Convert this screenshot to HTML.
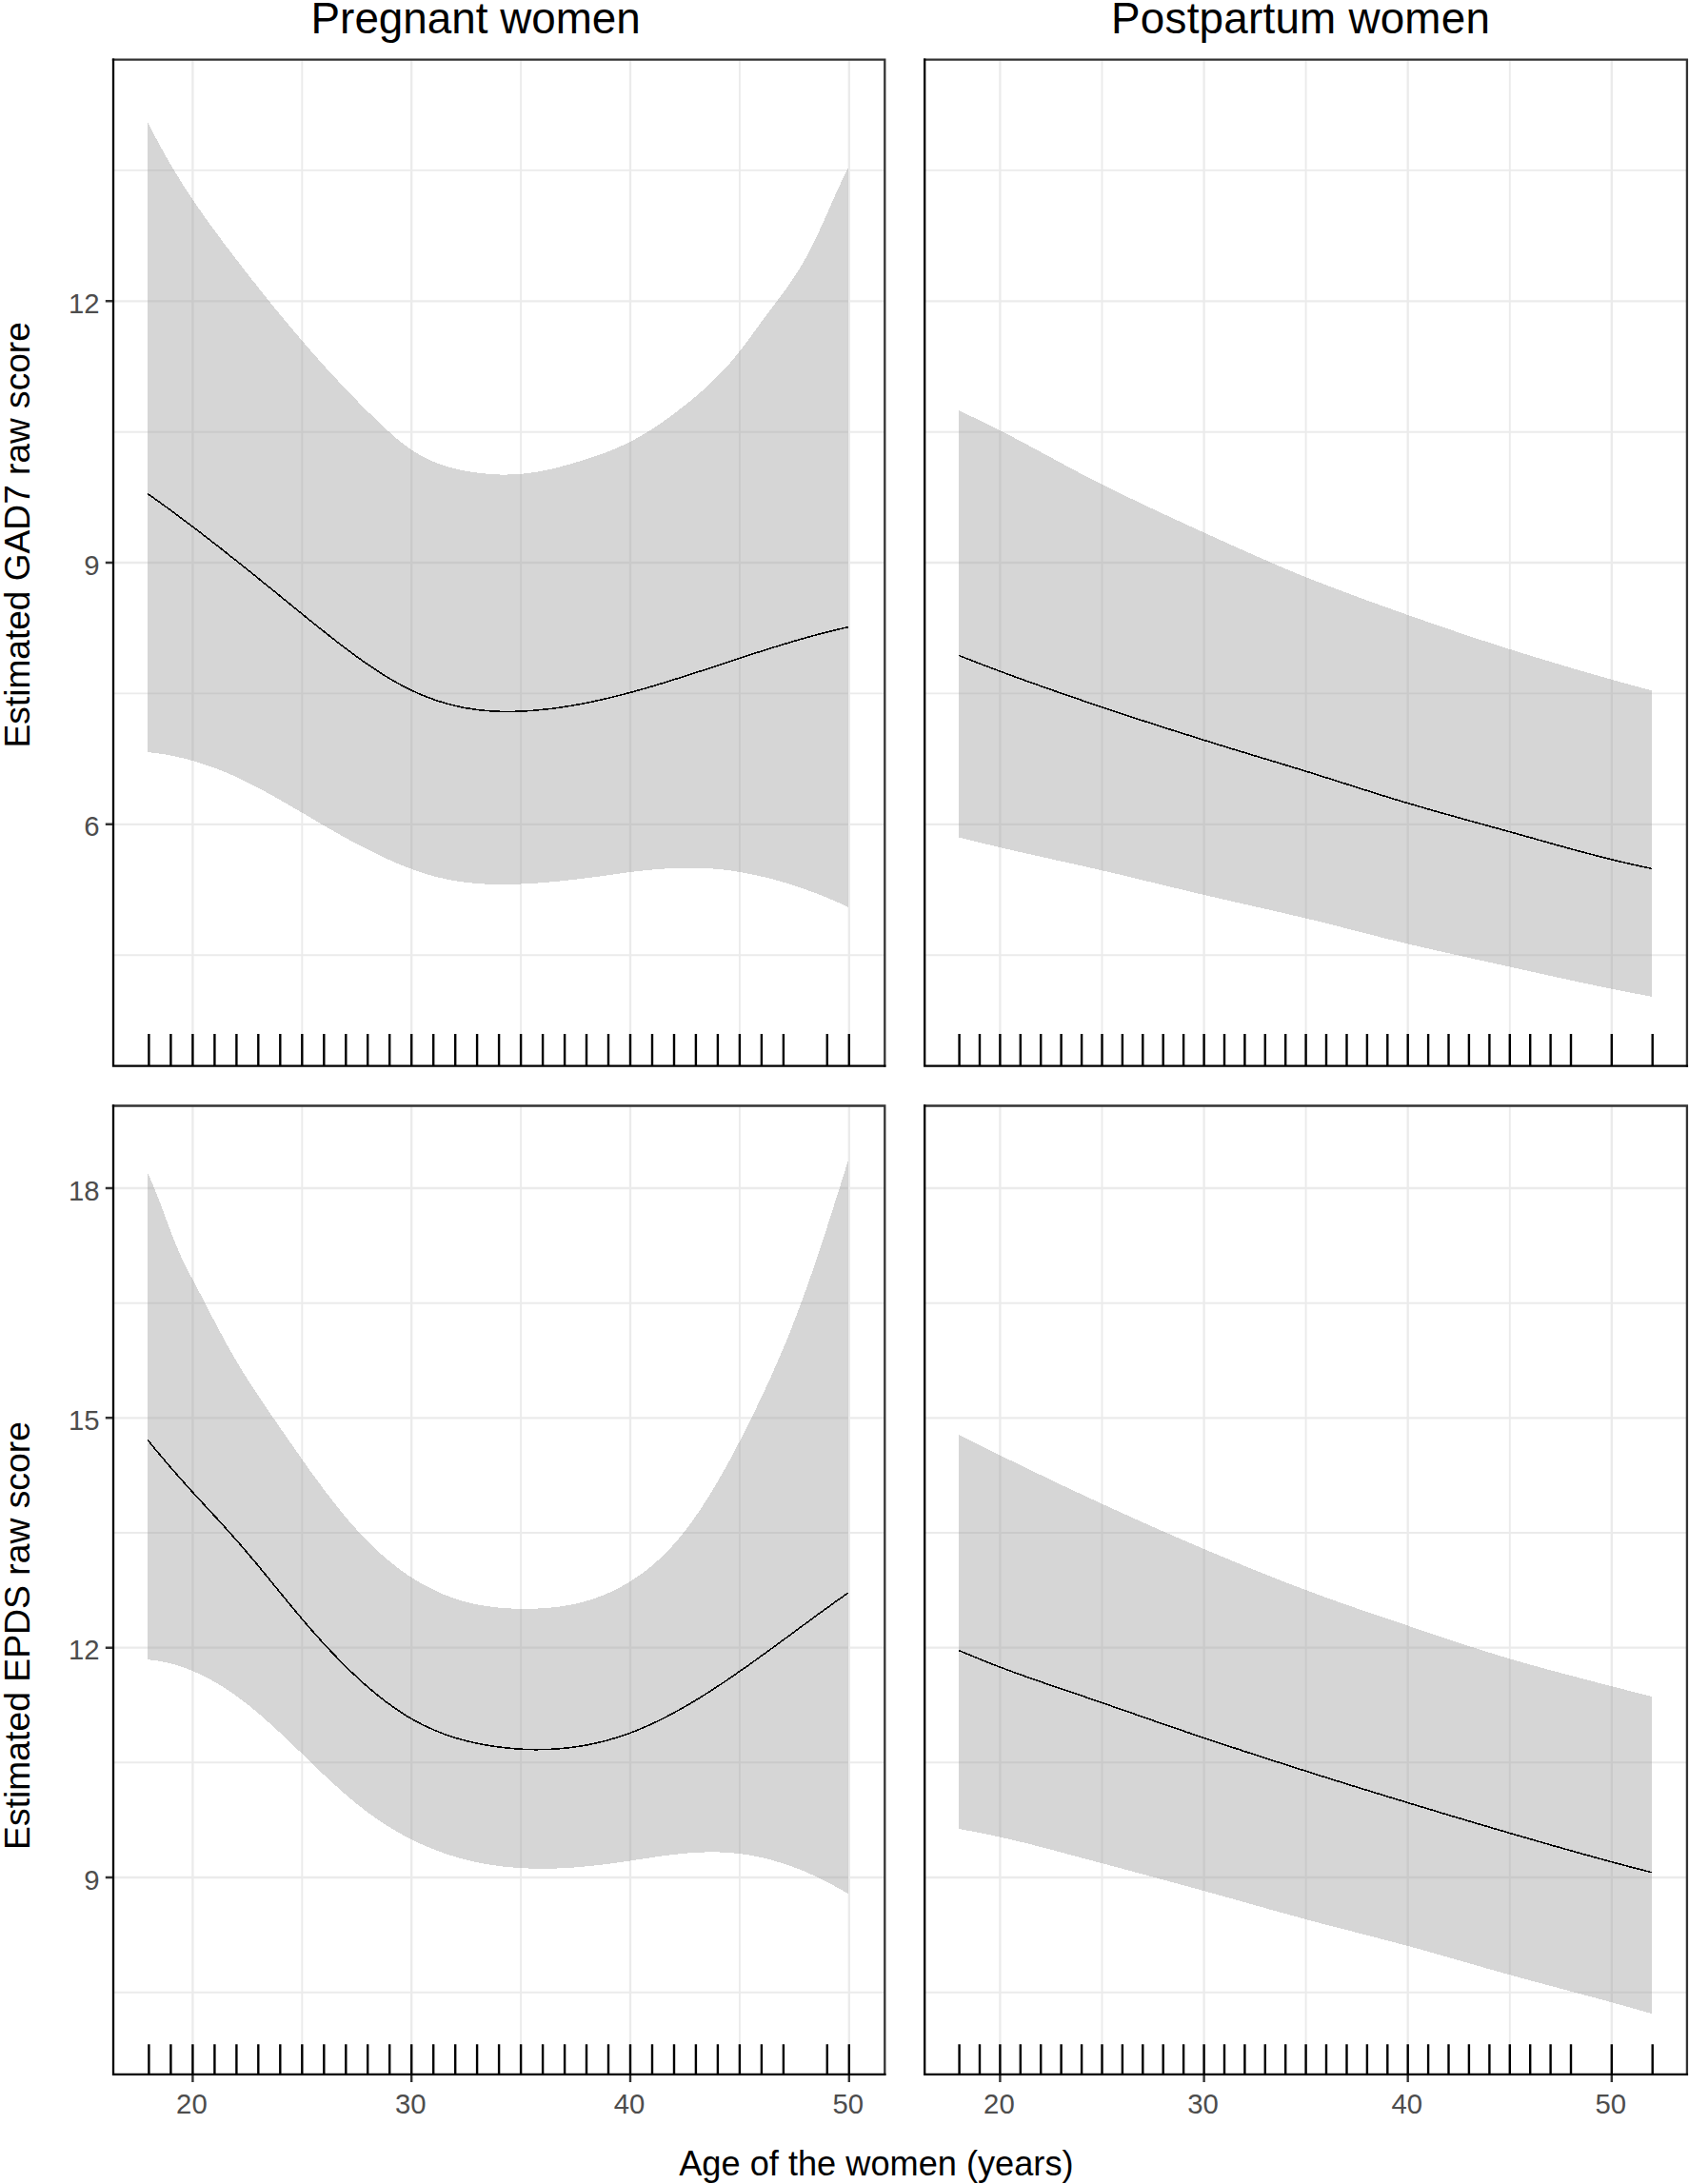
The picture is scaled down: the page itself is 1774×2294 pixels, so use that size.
<!DOCTYPE html>
<html lang="en"><head><meta charset="utf-8"><title>Estimated GAD7 and EPDS raw scores by age of the women</title>
<style>html,body{margin:0;padding:0;background:#fff}svg{display:block}text{font-family:"Liberation Sans",sans-serif}.tk{font-size:29.3px;fill:#4d4d4d}.ax{font-size:36.7px;fill:#000}.ti{font-size:45.8px;fill:#000}.gM{stroke:#ebebeb;stroke-width:2.3;fill:none}.gm{stroke:#ebebeb;stroke-width:1.9;fill:none}.rb{fill:#999;fill-opacity:.4;stroke:none;shape-rendering:crispEdges}.ln{fill:none;stroke:#000;stroke-width:1.6;stroke-linejoin:round;shape-rendering:crispEdges}.rug{stroke:#000;stroke-width:2.4;fill:none}.bd{fill:none;stroke:#333;stroke-width:2.3;stroke-linecap:square}.axl{stroke:#000;stroke-width:2.3;fill:none;stroke-linecap:square}.tick{stroke:#333;stroke-width:2.4;fill:none}</style></head><body>
<svg width="1774" height="2294" viewBox="0 0 1774 2294">
<rect width="1774" height="2294" fill="#fff"/>
<g id="p1">
<path class="gm" d="M119.0 1003.2H929.3M119.0 728.4H929.3M119.0 453.7H929.3M119.0 178.9H929.3M317.3 62.6V1119.6M547.1 62.6V1119.6M776.9 62.6V1119.6"/>
<path class="gM" d="M119.0 865.8H929.3M119.0 591.0H929.3M119.0 316.3H929.3M202.4 62.6V1119.6M432.2 62.6V1119.6M662.0 62.6V1119.6M891.8 62.6V1119.6"/>
<polygon class="rb" points="155.2,128.4 159.2,136.3 163.2,144.1 167.3,151.6 171.3,158.9 175.3,166.0 179.3,173.0 183.3,179.7 187.4,186.3 191.4,192.8 195.4,199.1 199.4,205.2 203.4,211.2 207.5,217.2 211.5,222.9 215.5,228.6 219.5,234.3 223.5,239.8 227.6,245.2 231.6,250.6 235.6,256.0 239.6,261.3 243.6,266.5 247.7,271.8 251.7,277.0 255.7,282.2 259.7,287.4 263.7,292.5 267.8,297.6 271.8,302.7 275.8,307.7 279.8,312.7 283.8,317.7 287.8,322.7 291.9,327.6 295.9,332.5 299.9,337.3 303.9,342.1 307.9,346.9 312.0,351.6 316.0,356.4 320.0,361.0 324.0,365.7 328.0,370.3 332.1,374.8 336.1,379.3 340.1,383.8 344.1,388.3 348.1,392.7 352.2,397.0 356.2,401.3 360.2,405.6 364.2,409.8 368.2,414.0 372.3,418.2 376.3,422.3 380.3,426.4 384.3,430.4 388.3,434.3 392.4,438.3 396.4,442.2 400.4,446.0 404.4,449.8 408.4,453.4 412.5,457.0 416.5,460.5 420.5,463.8 424.5,467.0 428.5,469.9 432.6,472.7 436.6,475.3 440.6,477.7 444.6,479.9 448.6,481.9 452.7,483.8 456.7,485.5 460.7,487.0 464.7,488.5 468.7,489.8 472.8,490.9 476.8,492.0 480.8,492.9 484.8,493.8 488.8,494.6 492.9,495.3 496.9,495.9 500.9,496.5 504.9,497.0 508.9,497.4 513.0,497.8 517.0,498.1 521.0,498.3 525.0,498.5 529.0,498.5 533.0,498.5 537.1,498.4 541.1,498.2 545.1,498.0 549.1,497.6 553.1,497.2 557.2,496.7 561.2,496.1 565.2,495.4 569.2,494.7 573.2,493.9 577.3,493.0 581.3,492.1 585.3,491.1 589.3,490.1 593.3,489.0 597.4,487.9 601.4,486.7 605.4,485.5 609.4,484.3 613.4,483.1 617.5,481.8 621.5,480.5 625.5,479.1 629.5,477.7 633.5,476.3 637.6,474.8 641.6,473.2 645.6,471.5 649.6,469.8 653.6,468.0 657.7,466.1 661.7,464.1 665.7,462.0 669.7,459.8 673.7,457.5 677.8,455.1 681.8,452.6 685.8,450.1 689.8,447.4 693.8,444.7 697.9,441.9 701.9,439.0 705.9,436.0 709.9,433.0 713.9,429.9 718.0,426.8 722.0,423.6 726.0,420.3 730.0,417.0 734.0,413.6 738.1,410.1 742.1,406.5 746.1,402.7 750.1,398.9 754.1,394.9 758.2,390.7 762.2,386.4 766.2,381.9 770.2,377.3 774.2,372.4 778.2,367.4 782.3,362.1 786.3,356.7 790.3,351.2 794.3,345.6 798.3,340.0 802.4,334.5 806.4,329.1 810.4,323.8 814.4,318.5 818.4,313.2 822.5,307.8 826.5,302.2 830.5,296.5 834.5,290.5 838.5,284.2 842.6,277.6 846.6,270.5 850.6,263.0 854.6,255.0 858.6,246.6 862.7,237.9 866.7,229.0 870.7,219.9 874.7,210.8 878.7,201.7 882.8,192.9 886.8,184.5 890.8,176.6 890.8,952.7 886.8,950.8 882.8,949.0 878.7,947.2 874.7,945.5 870.7,943.8 866.7,942.1 862.7,940.5 858.6,938.9 854.6,937.4 850.6,935.9 846.6,934.5 842.6,933.0 838.5,931.7 834.5,930.3 830.5,929.1 826.5,927.8 822.5,926.6 818.4,925.4 814.4,924.3 810.4,923.2 806.4,922.2 802.4,921.2 798.3,920.3 794.3,919.3 790.3,918.5 786.3,917.7 782.3,916.9 778.2,916.2 774.2,915.5 770.2,914.9 766.2,914.3 762.2,913.8 758.2,913.3 754.1,912.9 750.1,912.6 746.1,912.3 742.1,912.0 738.1,911.8 734.0,911.7 730.0,911.6 726.0,911.6 722.0,911.6 718.0,911.6 713.9,911.7 709.9,911.8 705.9,912.0 701.9,912.2 697.9,912.5 693.8,912.7 689.8,913.1 685.8,913.4 681.8,913.8 677.8,914.2 673.7,914.6 669.7,915.1 665.7,915.6 661.7,916.1 657.7,916.6 653.6,917.2 649.6,917.7 645.6,918.3 641.6,918.8 637.6,919.4 633.5,919.9 629.5,920.5 625.5,921.0 621.5,921.6 617.5,922.1 613.4,922.6 609.4,923.1 605.4,923.6 601.4,924.1 597.4,924.5 593.3,924.9 589.3,925.4 585.3,925.8 581.3,926.2 577.3,926.5 573.2,926.9 569.2,927.2 565.2,927.5 561.2,927.7 557.2,928.0 553.1,928.2 549.1,928.4 545.1,928.6 541.1,928.7 537.1,928.8 533.0,928.9 529.0,928.9 525.0,928.9 521.0,928.9 517.0,928.8 513.0,928.6 508.9,928.5 504.9,928.2 500.9,927.9 496.9,927.6 492.9,927.2 488.8,926.7 484.8,926.2 480.8,925.6 476.8,925.0 472.8,924.2 468.7,923.4 464.7,922.5 460.7,921.6 456.7,920.6 452.7,919.5 448.6,918.3 444.6,917.0 440.6,915.7 436.6,914.3 432.6,912.9 428.5,911.4 424.5,909.8 420.5,908.2 416.5,906.5 412.5,904.8 408.4,903.0 404.4,901.2 400.4,899.3 396.4,897.4 392.4,895.4 388.3,893.4 384.3,891.4 380.3,889.3 376.3,887.2 372.3,885.1 368.2,882.9 364.2,880.7 360.2,878.5 356.2,876.2 352.2,873.9 348.1,871.6 344.1,869.3 340.1,867.0 336.1,864.7 332.1,862.3 328.0,860.0 324.0,857.6 320.0,855.2 316.0,852.9 312.0,850.5 307.9,848.2 303.9,845.8 299.9,843.5 295.9,841.2 291.9,838.9 287.8,836.6 283.8,834.4 279.8,832.2 275.8,830.0 271.8,827.8 267.8,825.7 263.7,823.7 259.7,821.7 255.7,819.7 251.7,817.8 247.7,815.9 243.6,814.1 239.6,812.4 235.6,810.7 231.6,809.1 227.6,807.5 223.5,806.0 219.5,804.6 215.5,803.2 211.5,801.9 207.5,800.6 203.4,799.4 199.4,798.3 195.4,797.2 191.4,796.2 187.4,795.3 183.3,794.4 179.3,793.6 175.3,792.8 171.3,792.1 167.3,791.5 163.2,790.9 159.2,790.5 155.2,790.0"/>
<polyline class="ln" points="155.2,518.7 159.2,521.5 163.2,524.4 167.3,527.3 171.3,530.2 175.3,533.1 179.3,536.0 183.3,539.0 187.4,542.0 191.4,545.0 195.4,548.0 199.4,551.0 203.4,554.1 207.5,557.1 211.5,560.2 215.5,563.3 219.5,566.4 223.5,569.6 227.6,572.7 231.6,575.8 235.6,579.0 239.6,582.2 243.6,585.4 247.7,588.6 251.7,591.8 255.7,595.0 259.7,598.2 263.7,601.4 267.8,604.7 271.8,607.9 275.8,611.2 279.8,614.4 283.8,617.7 287.8,620.9 291.9,624.2 295.9,627.5 299.9,630.7 303.9,634.0 307.9,637.3 312.0,640.5 316.0,643.8 320.0,647.1 324.0,650.3 328.0,653.6 332.1,656.8 336.1,660.0 340.1,663.2 344.1,666.4 348.1,669.6 352.2,672.8 356.2,675.9 360.2,678.9 364.2,682.0 368.2,685.0 372.3,688.0 376.3,690.9 380.3,693.7 384.3,696.6 388.3,699.3 392.4,702.0 396.4,704.7 400.4,707.3 404.4,709.8 408.4,712.2 412.5,714.6 416.5,716.9 420.5,719.1 424.5,721.2 428.5,723.3 432.6,725.2 436.6,727.1 440.6,728.9 444.6,730.6 448.6,732.2 452.7,733.7 456.7,735.1 460.7,736.5 464.7,737.7 468.7,738.9 472.8,740.0 476.8,741.0 480.8,741.9 484.8,742.8 488.8,743.6 492.9,744.2 496.9,744.9 500.9,745.4 504.9,745.9 508.9,746.3 513.0,746.6 517.0,746.9 521.0,747.1 525.0,747.3 529.0,747.3 533.0,747.4 537.1,747.4 541.1,747.3 545.1,747.2 549.1,747.0 553.1,746.8 557.2,746.5 561.2,746.2 565.2,745.8 569.2,745.4 573.2,745.0 577.3,744.6 581.3,744.1 585.3,743.5 589.3,742.9 593.3,742.3 597.4,741.7 601.4,741.0 605.4,740.3 609.4,739.6 613.4,738.8 617.5,738.0 621.5,737.2 625.5,736.3 629.5,735.4 633.5,734.5 637.6,733.6 641.6,732.6 645.6,731.6 649.6,730.6 653.6,729.6 657.7,728.5 661.7,727.4 665.7,726.4 669.7,725.2 673.7,724.1 677.8,723.0 681.8,721.8 685.8,720.6 689.8,719.4 693.8,718.2 697.9,717.0 701.9,715.7 705.9,714.5 709.9,713.2 713.9,712.0 718.0,710.7 722.0,709.4 726.0,708.1 730.0,706.8 734.0,705.5 738.1,704.2 742.1,702.9 746.1,701.5 750.1,700.2 754.1,698.9 758.2,697.6 762.2,696.2 766.2,694.9 770.2,693.6 774.2,692.3 778.2,691.0 782.3,689.6 786.3,688.3 790.3,687.0 794.3,685.7 798.3,684.5 802.4,683.2 806.4,681.9 810.4,680.6 814.4,679.4 818.4,678.1 822.5,676.9 826.5,675.7 830.5,674.5 834.5,673.3 838.5,672.1 842.6,671.0 846.6,669.8 850.6,668.7 854.6,667.6 858.6,666.5 862.7,665.5 866.7,664.4 870.7,663.4 874.7,662.4 878.7,661.5 882.8,660.5 886.8,659.6 890.8,658.7"/>
<path class="rug" d="M156.4 1119.6V1085.9M179.4 1119.6V1085.9M202.4 1119.6V1085.9M225.4 1119.6V1085.9M248.4 1119.6V1085.9M271.3 1119.6V1085.9M294.3 1119.6V1085.9M317.3 1119.6V1085.9M340.3 1119.6V1085.9M363.3 1119.6V1085.9M386.2 1119.6V1085.9M409.2 1119.6V1085.9M432.2 1119.6V1085.9M455.2 1119.6V1085.9M478.2 1119.6V1085.9M501.1 1119.6V1085.9M524.1 1119.6V1085.9M547.1 1119.6V1085.9M570.1 1119.6V1085.9M593.1 1119.6V1085.9M616.0 1119.6V1085.9M639.0 1119.6V1085.9M662.0 1119.6V1085.9M685.0 1119.6V1085.9M708.0 1119.6V1085.9M730.9 1119.6V1085.9M753.9 1119.6V1085.9M776.9 1119.6V1085.9M799.9 1119.6V1085.9M822.9 1119.6V1085.9M868.8 1119.6V1085.9M891.8 1119.6V1085.9"/>
<path class="bd" d="M119.0 62.6H929.3V1119.6"/>
<path class="axl" d="M119.0 62.6V1119.6H929.3"/>
<path class="tick" d="M118.0 865.8H110.8M118.0 591.0H110.8M118.0 316.3H110.8"/>
<text class="tk" text-anchor="end" x="104.6" y="878.4">6</text>
<text class="tk" text-anchor="end" x="104.6" y="603.6">9</text>
<text class="tk" text-anchor="end" x="104.6" y="328.9">12</text>
</g>
<g id="p2">
<path class="gm" d="M971.2 1003.2H1771.9M971.2 728.4H1771.9M971.2 453.7H1771.9M971.2 178.9H1771.9M1157.5 62.6V1119.6M1371.6 62.6V1119.6M1585.8 62.6V1119.6"/>
<path class="gM" d="M971.2 865.8H1771.9M971.2 591.0H1771.9M971.2 316.3H1771.9M1050.4 62.6V1119.6M1264.6 62.6V1119.6M1478.7 62.6V1119.6M1692.8 62.6V1119.6"/>
<polygon class="rb" points="1007.2,431.1 1011.2,433.0 1015.2,434.9 1019.2,436.9 1023.2,438.8 1027.2,440.7 1031.2,442.7 1035.2,444.7 1039.2,446.6 1043.2,448.6 1047.2,450.6 1051.2,452.7 1055.2,454.7 1059.2,456.8 1063.2,458.8 1067.2,460.9 1071.2,463.0 1075.2,465.2 1079.2,467.3 1083.2,469.4 1087.2,471.6 1091.2,473.7 1095.2,475.9 1099.2,478.1 1103.2,480.2 1107.2,482.4 1111.2,484.6 1115.2,486.7 1119.2,488.9 1123.2,491.0 1127.2,493.2 1131.2,495.3 1135.2,497.4 1139.2,499.5 1143.2,501.6 1147.2,503.6 1151.2,505.7 1155.2,507.7 1159.2,509.7 1163.2,511.7 1167.2,513.7 1171.2,515.6 1175.2,517.6 1179.2,519.5 1183.2,521.5 1187.2,523.4 1191.2,525.3 1195.2,527.2 1199.2,529.1 1203.2,531.0 1207.2,532.9 1211.2,534.8 1215.2,536.7 1219.2,538.6 1223.2,540.4 1227.2,542.3 1231.2,544.1 1235.2,546.0 1239.2,547.8 1243.2,549.7 1247.2,551.5 1251.2,553.3 1255.2,555.1 1259.2,557.0 1263.2,558.8 1267.2,560.6 1271.2,562.4 1275.2,564.2 1279.2,566.0 1283.2,567.9 1287.2,569.7 1291.2,571.5 1295.2,573.3 1299.2,575.1 1303.2,576.9 1307.2,578.7 1311.2,580.4 1315.2,582.2 1319.2,584.0 1323.2,585.7 1327.2,587.5 1331.2,589.2 1335.2,591.0 1339.2,592.7 1343.2,594.4 1347.2,596.1 1351.2,597.8 1355.2,599.5 1359.2,601.1 1363.2,602.8 1367.2,604.4 1371.2,606.0 1375.2,607.6 1379.2,609.2 1383.2,610.8 1387.2,612.3 1391.2,613.9 1395.2,615.4 1399.2,617.0 1403.2,618.5 1407.2,620.0 1411.2,621.5 1415.2,623.0 1419.2,624.5 1423.2,626.0 1427.2,627.5 1431.2,628.9 1435.2,630.4 1439.2,631.8 1443.2,633.3 1447.2,634.7 1451.2,636.2 1455.2,637.6 1459.2,639.0 1463.2,640.4 1467.2,641.9 1471.2,643.3 1475.2,644.7 1479.2,646.1 1483.2,647.5 1487.2,648.9 1491.2,650.3 1495.2,651.7 1499.2,653.1 1503.2,654.5 1507.2,655.9 1511.2,657.3 1515.2,658.6 1519.2,660.0 1523.2,661.4 1527.2,662.7 1531.2,664.1 1535.2,665.4 1539.2,666.8 1543.2,668.1 1547.2,669.4 1551.2,670.8 1555.2,672.1 1559.2,673.4 1563.2,674.7 1567.2,676.0 1571.2,677.3 1575.2,678.6 1579.2,679.9 1583.2,681.1 1587.2,682.4 1591.2,683.7 1595.2,684.9 1599.2,686.2 1603.2,687.4 1607.2,688.6 1611.2,689.9 1615.2,691.1 1619.2,692.3 1623.2,693.5 1627.2,694.7 1631.2,695.9 1635.2,697.1 1639.2,698.3 1643.2,699.5 1647.2,700.7 1651.2,701.9 1655.2,703.0 1659.2,704.2 1663.2,705.4 1667.2,706.5 1671.2,707.7 1675.2,708.8 1679.2,710.0 1683.2,711.1 1687.2,712.3 1691.2,713.4 1695.2,714.5 1699.2,715.6 1703.2,716.8 1707.2,717.9 1711.2,718.9 1715.2,720.0 1719.2,721.1 1723.2,722.2 1727.2,723.3 1731.2,724.3 1735.2,725.4 1735.2,1046.8 1731.2,1046.1 1727.2,1045.3 1723.2,1044.6 1719.2,1043.8 1715.2,1043.1 1711.2,1042.3 1707.2,1041.5 1703.2,1040.8 1699.2,1040.0 1695.2,1039.2 1691.2,1038.4 1687.2,1037.6 1683.2,1036.7 1679.2,1035.9 1675.2,1035.1 1671.2,1034.2 1667.2,1033.4 1663.2,1032.6 1659.2,1031.7 1655.2,1030.8 1651.2,1030.0 1647.2,1029.1 1643.2,1028.2 1639.2,1027.3 1635.2,1026.5 1631.2,1025.6 1627.2,1024.7 1623.2,1023.8 1619.2,1022.9 1615.2,1022.0 1611.2,1021.2 1607.2,1020.3 1603.2,1019.4 1599.2,1018.5 1595.2,1017.6 1591.2,1016.7 1587.2,1015.8 1583.2,1014.9 1579.2,1014.1 1575.2,1013.2 1571.2,1012.3 1567.2,1011.4 1563.2,1010.5 1559.2,1009.6 1555.2,1008.8 1551.2,1007.9 1547.2,1007.0 1543.2,1006.1 1539.2,1005.2 1535.2,1004.3 1531.2,1003.4 1527.2,1002.5 1523.2,1001.6 1519.2,1000.7 1515.2,999.8 1511.2,998.9 1507.2,998.0 1503.2,997.1 1499.2,996.2 1495.2,995.3 1491.2,994.3 1487.2,993.4 1483.2,992.5 1479.2,991.5 1475.2,990.6 1471.2,989.6 1467.2,988.6 1463.2,987.6 1459.2,986.7 1455.2,985.7 1451.2,984.7 1447.2,983.7 1443.2,982.6 1439.2,981.6 1435.2,980.6 1431.2,979.6 1427.2,978.6 1423.2,977.5 1419.2,976.5 1415.2,975.5 1411.2,974.5 1407.2,973.4 1403.2,972.4 1399.2,971.4 1395.2,970.4 1391.2,969.4 1387.2,968.4 1383.2,967.4 1379.2,966.4 1375.2,965.5 1371.2,964.5 1367.2,963.5 1363.2,962.6 1359.2,961.7 1355.2,960.7 1351.2,959.8 1347.2,958.9 1343.2,957.9 1339.2,957.0 1335.2,956.1 1331.2,955.2 1327.2,954.3 1323.2,953.4 1319.2,952.5 1315.2,951.6 1311.2,950.6 1307.2,949.7 1303.2,948.8 1299.2,947.9 1295.2,947.0 1291.2,946.1 1287.2,945.2 1283.2,944.3 1279.2,943.4 1275.2,942.4 1271.2,941.5 1267.2,940.6 1263.2,939.6 1259.2,938.7 1255.2,937.7 1251.2,936.8 1247.2,935.8 1243.2,934.9 1239.2,933.9 1235.2,932.9 1231.2,932.0 1227.2,931.0 1223.2,930.0 1219.2,929.1 1215.2,928.1 1211.2,927.1 1207.2,926.2 1203.2,925.2 1199.2,924.2 1195.2,923.2 1191.2,922.3 1187.2,921.3 1183.2,920.4 1179.2,919.4 1175.2,918.4 1171.2,917.5 1167.2,916.5 1163.2,915.6 1159.2,914.7 1155.2,913.7 1151.2,912.8 1147.2,911.9 1143.2,911.0 1139.2,910.1 1135.2,909.2 1131.2,908.3 1127.2,907.4 1123.2,906.5 1119.2,905.6 1115.2,904.7 1111.2,903.9 1107.2,903.0 1103.2,902.1 1099.2,901.2 1095.2,900.3 1091.2,899.4 1087.2,898.5 1083.2,897.6 1079.2,896.7 1075.2,895.8 1071.2,894.9 1067.2,894.0 1063.2,893.1 1059.2,892.2 1055.2,891.3 1051.2,890.3 1047.2,889.4 1043.2,888.4 1039.2,887.4 1035.2,886.5 1031.2,885.5 1027.2,884.5 1023.2,883.5 1019.2,882.5 1015.2,881.5 1011.2,880.5 1007.2,879.5"/>
<polyline class="ln" points="1007.2,688.5 1011.2,690.1 1015.2,691.7 1019.2,693.2 1023.2,694.8 1027.2,696.3 1031.2,697.9 1035.2,699.4 1039.2,700.9 1043.2,702.4 1047.2,703.9 1051.2,705.4 1055.2,706.9 1059.2,708.4 1063.2,709.8 1067.2,711.3 1071.2,712.7 1075.2,714.2 1079.2,715.6 1083.2,717.1 1087.2,718.5 1091.2,719.9 1095.2,721.3 1099.2,722.7 1103.2,724.1 1107.2,725.6 1111.2,726.9 1115.2,728.3 1119.2,729.7 1123.2,731.1 1127.2,732.5 1131.2,733.9 1135.2,735.2 1139.2,736.6 1143.2,738.0 1147.2,739.3 1151.2,740.7 1155.2,742.0 1159.2,743.4 1163.2,744.7 1167.2,746.1 1171.2,747.4 1175.2,748.7 1179.2,750.0 1183.2,751.4 1187.2,752.7 1191.2,754.0 1195.2,755.3 1199.2,756.6 1203.2,757.9 1207.2,759.2 1211.2,760.5 1215.2,761.7 1219.2,763.0 1223.2,764.3 1227.2,765.6 1231.2,766.9 1235.2,768.1 1239.2,769.4 1243.2,770.7 1247.2,771.9 1251.2,773.2 1255.2,774.5 1259.2,775.7 1263.2,777.0 1267.2,778.2 1271.2,779.5 1275.2,780.7 1279.2,782.0 1283.2,783.2 1287.2,784.4 1291.2,785.7 1295.2,786.9 1299.2,788.1 1303.2,789.3 1307.2,790.5 1311.2,791.7 1315.2,793.0 1319.2,794.2 1323.2,795.4 1327.2,796.6 1331.2,797.8 1335.2,799.0 1339.2,800.2 1343.2,801.4 1347.2,802.6 1351.2,803.9 1355.2,805.1 1359.2,806.3 1363.2,807.5 1367.2,808.8 1371.2,810.0 1375.2,811.2 1379.2,812.5 1383.2,813.7 1387.2,815.0 1391.2,816.3 1395.2,817.5 1399.2,818.8 1403.2,820.1 1407.2,821.3 1411.2,822.6 1415.2,823.9 1419.2,825.2 1423.2,826.4 1427.2,827.7 1431.2,829.0 1435.2,830.2 1439.2,831.5 1443.2,832.8 1447.2,834.0 1451.2,835.3 1455.2,836.5 1459.2,837.7 1463.2,839.0 1467.2,840.2 1471.2,841.4 1475.2,842.6 1479.2,843.8 1483.2,844.9 1487.2,846.1 1491.2,847.3 1495.2,848.4 1499.2,849.6 1503.2,850.7 1507.2,851.9 1511.2,853.0 1515.2,854.2 1519.2,855.3 1523.2,856.4 1527.2,857.5 1531.2,858.6 1535.2,859.8 1539.2,860.9 1543.2,862.0 1547.2,863.1 1551.2,864.2 1555.2,865.3 1559.2,866.4 1563.2,867.5 1567.2,868.6 1571.2,869.7 1575.2,870.8 1579.2,871.9 1583.2,873.0 1587.2,874.1 1591.2,875.2 1595.2,876.4 1599.2,877.5 1603.2,878.6 1607.2,879.7 1611.2,880.8 1615.2,882.0 1619.2,883.1 1623.2,884.2 1627.2,885.3 1631.2,886.5 1635.2,887.6 1639.2,888.7 1643.2,889.8 1647.2,890.9 1651.2,892.0 1655.2,893.1 1659.2,894.2 1663.2,895.2 1667.2,896.3 1671.2,897.3 1675.2,898.4 1679.2,899.4 1683.2,900.4 1687.2,901.4 1691.2,902.4 1695.2,903.4 1699.2,904.4 1703.2,905.3 1707.2,906.3 1711.2,907.2 1715.2,908.1 1719.2,909.0 1723.2,909.9 1727.2,910.8 1731.2,911.6 1735.2,912.5"/>
<path class="rug" d="M1007.6 1119.6V1085.9M1029.0 1119.6V1085.9M1050.4 1119.6V1085.9M1071.8 1119.6V1085.9M1093.2 1119.6V1085.9M1114.6 1119.6V1085.9M1136.1 1119.6V1085.9M1157.5 1119.6V1085.9M1178.9 1119.6V1085.9M1200.3 1119.6V1085.9M1221.7 1119.6V1085.9M1243.1 1119.6V1085.9M1264.6 1119.6V1085.9M1286.0 1119.6V1085.9M1307.4 1119.6V1085.9M1328.8 1119.6V1085.9M1350.2 1119.6V1085.9M1371.6 1119.6V1085.9M1393.0 1119.6V1085.9M1414.5 1119.6V1085.9M1435.9 1119.6V1085.9M1457.3 1119.6V1085.9M1478.7 1119.6V1085.9M1500.1 1119.6V1085.9M1521.5 1119.6V1085.9M1542.9 1119.6V1085.9M1564.4 1119.6V1085.9M1585.8 1119.6V1085.9M1607.2 1119.6V1085.9M1628.6 1119.6V1085.9M1650.0 1119.6V1085.9M1692.8 1119.6V1085.9M1735.7 1119.6V1085.9"/>
<path class="bd" d="M971.2 62.6H1771.9V1119.6"/>
<path class="axl" d="M971.2 62.6V1119.6H1771.9"/>
</g>
<g id="p3">
<path class="gm" d="M119.0 2092.7H929.3M119.0 1851.3H929.3M119.0 1610.0H929.3M119.0 1368.7H929.3M317.3 1161.5V2178.9M547.1 1161.5V2178.9M776.9 1161.5V2178.9"/>
<path class="gM" d="M119.0 1972.0H929.3M119.0 1730.7H929.3M119.0 1489.3H929.3M119.0 1248.0H929.3M202.4 1161.5V2178.9M432.2 1161.5V2178.9M662.0 1161.5V2178.9M891.8 1161.5V2178.9"/>
<polygon class="rb" points="155.2,1232.2 159.2,1241.1 163.2,1250.8 167.3,1261.1 171.3,1271.9 175.3,1282.7 179.3,1293.4 183.3,1303.8 187.4,1313.6 191.4,1322.6 195.4,1330.8 199.4,1338.5 203.4,1346.0 207.5,1353.7 211.5,1361.4 215.5,1369.2 219.5,1376.9 223.5,1384.6 227.6,1392.2 231.6,1399.8 235.6,1407.2 239.6,1414.5 243.6,1421.6 247.7,1428.6 251.7,1435.4 255.7,1442.0 259.7,1448.4 263.7,1454.7 267.8,1460.8 271.8,1466.8 275.8,1472.8 279.8,1478.7 283.8,1484.6 287.8,1490.4 291.9,1496.3 295.9,1502.1 299.9,1507.9 303.9,1513.7 307.9,1519.5 312.0,1525.3 316.0,1531.0 320.0,1536.7 324.0,1542.4 328.0,1548.0 332.1,1553.5 336.1,1558.9 340.1,1564.3 344.1,1569.6 348.1,1574.9 352.2,1580.0 356.2,1585.0 360.2,1590.0 364.2,1594.8 368.2,1599.5 372.3,1604.1 376.3,1608.6 380.3,1612.9 384.3,1617.1 388.3,1621.1 392.4,1625.0 396.4,1628.8 400.4,1632.5 404.4,1636.0 408.4,1639.4 412.5,1642.6 416.5,1645.8 420.5,1648.8 424.5,1651.7 428.5,1654.5 432.6,1657.1 436.6,1659.6 440.6,1662.1 444.6,1664.4 448.6,1666.5 452.7,1668.6 456.7,1670.6 460.7,1672.4 464.7,1674.2 468.7,1675.8 472.8,1677.3 476.8,1678.8 480.8,1680.1 484.8,1681.3 488.8,1682.5 492.9,1683.5 496.9,1684.4 500.9,1685.3 504.9,1686.0 508.9,1686.7 513.0,1687.3 517.0,1687.8 521.0,1688.3 525.0,1688.7 529.0,1689.0 533.0,1689.3 537.1,1689.5 541.1,1689.6 545.1,1689.7 549.1,1689.8 553.1,1689.8 557.2,1689.8 561.2,1689.7 565.2,1689.5 569.2,1689.3 573.2,1689.1 577.3,1688.7 581.3,1688.3 585.3,1687.9 589.3,1687.3 593.3,1686.7 597.4,1686.0 601.4,1685.2 605.4,1684.4 609.4,1683.4 613.4,1682.3 617.5,1681.2 621.5,1679.9 625.5,1678.6 629.5,1677.1 633.5,1675.6 637.6,1673.9 641.6,1672.1 645.6,1670.2 649.6,1668.1 653.6,1666.0 657.7,1663.7 661.7,1661.3 665.7,1658.7 669.7,1656.0 673.7,1653.2 677.8,1650.2 681.8,1647.0 685.8,1643.6 689.8,1640.1 693.8,1636.4 697.9,1632.5 701.9,1628.4 705.9,1624.1 709.9,1619.6 713.9,1614.9 718.0,1609.9 722.0,1604.7 726.0,1599.3 730.0,1593.7 734.0,1587.8 738.1,1581.7 742.1,1575.5 746.1,1569.0 750.1,1562.4 754.1,1555.6 758.2,1548.6 762.2,1541.4 766.2,1534.1 770.2,1526.6 774.2,1519.0 778.2,1511.3 782.3,1503.4 786.3,1495.4 790.3,1487.3 794.3,1479.0 798.3,1470.6 802.4,1462.1 806.4,1453.4 810.4,1444.6 814.4,1435.5 818.4,1426.3 822.5,1416.8 826.5,1407.1 830.5,1397.1 834.5,1386.9 838.5,1376.4 842.6,1365.6 846.6,1354.5 850.6,1343.1 854.6,1331.5 858.6,1319.6 862.7,1307.5 866.7,1295.3 870.7,1282.8 874.7,1270.3 878.7,1257.5 882.8,1244.7 886.8,1231.9 890.8,1218.9 890.8,1989.2 886.8,1986.8 882.8,1984.5 878.7,1982.2 874.7,1980.0 870.7,1977.8 866.7,1975.8 862.7,1973.8 858.6,1971.8 854.6,1969.9 850.6,1968.1 846.6,1966.4 842.6,1964.7 838.5,1963.1 834.5,1961.6 830.5,1960.1 826.5,1958.7 822.5,1957.3 818.4,1956.1 814.4,1954.9 810.4,1953.7 806.4,1952.7 802.4,1951.7 798.3,1950.8 794.3,1949.9 790.3,1949.2 786.3,1948.4 782.3,1947.8 778.2,1947.3 774.2,1946.8 770.2,1946.4 766.2,1946.0 762.2,1945.8 758.2,1945.6 754.1,1945.4 750.1,1945.4 746.1,1945.4 742.1,1945.4 738.1,1945.6 734.0,1945.7 730.0,1946.0 726.0,1946.2 722.0,1946.5 718.0,1946.9 713.9,1947.3 709.9,1947.7 705.9,1948.2 701.9,1948.7 697.9,1949.2 693.8,1949.7 689.8,1950.3 685.8,1950.9 681.8,1951.5 677.8,1952.0 673.7,1952.7 669.7,1953.3 665.7,1953.9 661.7,1954.5 657.7,1955.1 653.6,1955.7 649.6,1956.3 645.6,1956.8 641.6,1957.4 637.6,1957.9 633.5,1958.4 629.5,1958.9 625.5,1959.4 621.5,1959.8 617.5,1960.2 613.4,1960.6 609.4,1961.0 605.4,1961.3 601.4,1961.6 597.4,1961.9 593.3,1962.1 589.3,1962.3 585.3,1962.5 581.3,1962.6 577.3,1962.7 573.2,1962.7 569.2,1962.8 565.2,1962.7 561.2,1962.7 557.2,1962.6 553.1,1962.4 549.1,1962.2 545.1,1962.0 541.1,1961.7 537.1,1961.4 533.0,1961.0 529.0,1960.6 525.0,1960.1 521.0,1959.5 517.0,1958.9 513.0,1958.3 508.9,1957.6 504.9,1956.8 500.9,1956.0 496.9,1955.2 492.9,1954.2 488.8,1953.2 484.8,1952.2 480.8,1951.0 476.8,1949.9 472.8,1948.6 468.7,1947.3 464.7,1945.9 460.7,1944.4 456.7,1942.9 452.7,1941.3 448.6,1939.7 444.6,1937.9 440.6,1936.1 436.6,1934.2 432.6,1932.2 428.5,1930.2 424.5,1928.1 420.5,1925.8 416.5,1923.6 412.5,1921.2 408.4,1918.7 404.4,1916.2 400.4,1913.6 396.4,1910.9 392.4,1908.1 388.3,1905.2 384.3,1902.2 380.3,1899.1 376.3,1896.0 372.3,1892.7 368.2,1889.4 364.2,1885.9 360.2,1882.4 356.2,1878.9 352.2,1875.3 348.1,1871.6 344.1,1867.8 340.1,1864.1 336.1,1860.3 332.1,1856.4 328.0,1852.6 324.0,1848.7 320.0,1844.8 316.0,1840.9 312.0,1837.1 307.9,1833.2 303.9,1829.4 299.9,1825.5 295.9,1821.7 291.9,1818.0 287.8,1814.3 283.8,1810.6 279.8,1807.0 275.8,1803.4 271.8,1800.0 267.8,1796.6 263.7,1793.2 259.7,1790.0 255.7,1786.9 251.7,1783.9 247.7,1780.9 243.6,1778.1 239.6,1775.4 235.6,1772.7 231.6,1770.2 227.6,1767.8 223.5,1765.5 219.5,1763.3 215.5,1761.2 211.5,1759.2 207.5,1757.4 203.4,1755.6 199.4,1753.9 195.4,1752.4 191.4,1751.0 187.4,1749.6 183.3,1748.4 179.3,1747.3 175.3,1746.4 171.3,1745.5 167.3,1744.8 163.2,1744.1 159.2,1743.6 155.2,1743.2"/>
<polyline class="ln" points="155.2,1512.5 159.2,1517.5 163.2,1522.4 167.3,1527.2 171.3,1532.0 175.3,1536.7 179.3,1541.4 183.3,1546.0 187.4,1550.6 191.4,1555.1 195.4,1559.6 199.4,1564.1 203.4,1568.5 207.5,1572.9 211.5,1577.3 215.5,1581.6 219.5,1586.0 223.5,1590.4 227.6,1594.7 231.6,1599.1 235.6,1603.5 239.6,1608.0 243.6,1612.5 247.7,1617.0 251.7,1621.6 255.7,1626.2 259.7,1630.9 263.7,1635.7 267.8,1640.5 271.8,1645.3 275.8,1650.2 279.8,1655.1 283.8,1660.0 287.8,1665.0 291.9,1669.9 295.9,1674.8 299.9,1679.7 303.9,1684.6 307.9,1689.4 312.0,1694.3 316.0,1699.0 320.0,1703.7 324.0,1708.4 328.0,1713.0 332.1,1717.6 336.1,1722.0 340.1,1726.5 344.1,1730.8 348.1,1735.1 352.2,1739.3 356.2,1743.4 360.2,1747.5 364.2,1751.5 368.2,1755.4 372.3,1759.2 376.3,1763.0 380.3,1766.6 384.3,1770.2 388.3,1773.7 392.4,1777.1 396.4,1780.4 400.4,1783.6 404.4,1786.7 408.4,1789.7 412.5,1792.6 416.5,1795.4 420.5,1798.1 424.5,1800.7 428.5,1803.2 432.6,1805.5 436.6,1807.8 440.6,1809.9 444.6,1812.0 448.6,1813.9 452.7,1815.7 456.7,1817.5 460.7,1819.1 464.7,1820.7 468.7,1822.2 472.8,1823.5 476.8,1824.9 480.8,1826.1 484.8,1827.2 488.8,1828.3 492.9,1829.3 496.9,1830.2 500.9,1831.1 504.9,1831.9 508.9,1832.6 513.0,1833.3 517.0,1834.0 521.0,1834.6 525.0,1835.1 529.0,1835.6 533.0,1836.0 537.1,1836.4 541.1,1836.8 545.1,1837.0 549.1,1837.3 553.1,1837.5 557.2,1837.6 561.2,1837.7 565.2,1837.7 569.2,1837.6 573.2,1837.5 577.3,1837.4 581.3,1837.2 585.3,1836.9 589.3,1836.6 593.3,1836.2 597.4,1835.8 601.4,1835.3 605.4,1834.7 609.4,1834.1 613.4,1833.5 617.5,1832.7 621.5,1831.9 625.5,1831.0 629.5,1830.1 633.5,1829.1 637.6,1828.1 641.6,1826.9 645.6,1825.7 649.6,1824.5 653.6,1823.2 657.7,1821.8 661.7,1820.3 665.7,1818.8 669.7,1817.2 673.7,1815.5 677.8,1813.8 681.8,1812.0 685.8,1810.2 689.8,1808.3 693.8,1806.3 697.9,1804.3 701.9,1802.2 705.9,1800.1 709.9,1797.9 713.9,1795.7 718.0,1793.4 722.0,1791.1 726.0,1788.7 730.0,1786.3 734.0,1783.9 738.1,1781.4 742.1,1778.8 746.1,1776.3 750.1,1773.7 754.1,1771.0 758.2,1768.4 762.2,1765.7 766.2,1763.0 770.2,1760.2 774.2,1757.4 778.2,1754.6 782.3,1751.8 786.3,1749.0 790.3,1746.1 794.3,1743.2 798.3,1740.3 802.4,1737.4 806.4,1734.5 810.4,1731.6 814.4,1728.6 818.4,1725.7 822.5,1722.7 826.5,1719.8 830.5,1716.8 834.5,1713.9 838.5,1710.9 842.6,1707.9 846.6,1705.0 850.6,1702.0 854.6,1699.1 858.6,1696.1 862.7,1693.2 866.7,1690.3 870.7,1687.4 874.7,1684.5 878.7,1681.6 882.8,1678.8 886.8,1676.0 890.8,1673.1"/>
<path class="rug" d="M156.4 2178.9V2147.3M179.4 2178.9V2147.3M202.4 2178.9V2147.3M225.4 2178.9V2147.3M248.4 2178.9V2147.3M271.3 2178.9V2147.3M294.3 2178.9V2147.3M317.3 2178.9V2147.3M340.3 2178.9V2147.3M363.3 2178.9V2147.3M386.2 2178.9V2147.3M409.2 2178.9V2147.3M432.2 2178.9V2147.3M455.2 2178.9V2147.3M478.2 2178.9V2147.3M501.1 2178.9V2147.3M524.1 2178.9V2147.3M547.1 2178.9V2147.3M570.1 2178.9V2147.3M593.1 2178.9V2147.3M616.0 2178.9V2147.3M639.0 2178.9V2147.3M662.0 2178.9V2147.3M685.0 2178.9V2147.3M708.0 2178.9V2147.3M730.9 2178.9V2147.3M753.9 2178.9V2147.3M776.9 2178.9V2147.3M799.9 2178.9V2147.3M822.9 2178.9V2147.3M868.8 2178.9V2147.3M891.8 2178.9V2147.3"/>
<path class="bd" d="M119.0 1161.5H929.3V2178.9"/>
<path class="axl" d="M119.0 1161.5V2178.9H929.3"/>
<path class="tick" d="M118.0 1972.0H110.8M118.0 1730.7H110.8M118.0 1489.3H110.8M118.0 1248.0H110.8M202.4 2179.9V2187.1M432.2 2179.9V2187.1M662.0 2179.9V2187.1M891.8 2179.9V2187.1"/>
<text class="tk" text-anchor="end" x="104.6" y="1984.6">9</text>
<text class="tk" text-anchor="end" x="104.6" y="1743.3">12</text>
<text class="tk" text-anchor="end" x="104.6" y="1501.9">15</text>
<text class="tk" text-anchor="end" x="104.6" y="1260.6">18</text>
<text class="tk" text-anchor="middle" x="201.4" y="2220.2">20</text>
<text class="tk" text-anchor="middle" x="431.2" y="2220.2">30</text>
<text class="tk" text-anchor="middle" x="661.0" y="2220.2">40</text>
<text class="tk" text-anchor="middle" x="890.8" y="2220.2">50</text>
</g>
<g id="p4">
<path class="gm" d="M971.2 2092.7H1771.9M971.2 1851.3H1771.9M971.2 1610.0H1771.9M971.2 1368.7H1771.9M1157.5 1161.5V2178.9M1371.6 1161.5V2178.9M1585.8 1161.5V2178.9"/>
<path class="gM" d="M971.2 1972.0H1771.9M971.2 1730.7H1771.9M971.2 1489.3H1771.9M971.2 1248.0H1771.9M1050.4 1161.5V2178.9M1264.6 1161.5V2178.9M1478.7 1161.5V2178.9M1692.8 1161.5V2178.9"/>
<polygon class="rb" points="1007.2,1506.9 1011.2,1508.9 1015.2,1511.0 1019.2,1513.0 1023.2,1515.0 1027.2,1517.0 1031.2,1519.0 1035.2,1521.0 1039.2,1523.0 1043.2,1525.0 1047.2,1527.0 1051.2,1528.9 1055.2,1530.9 1059.2,1532.9 1063.2,1534.8 1067.2,1536.8 1071.2,1538.7 1075.2,1540.7 1079.2,1542.6 1083.2,1544.5 1087.2,1546.5 1091.2,1548.4 1095.2,1550.3 1099.2,1552.2 1103.2,1554.2 1107.2,1556.1 1111.2,1558.0 1115.2,1559.9 1119.2,1561.8 1123.2,1563.7 1127.2,1565.5 1131.2,1567.4 1135.2,1569.3 1139.2,1571.2 1143.2,1573.0 1147.2,1574.9 1151.2,1576.7 1155.2,1578.6 1159.2,1580.4 1163.2,1582.2 1167.2,1584.1 1171.2,1585.9 1175.2,1587.7 1179.2,1589.5 1183.2,1591.3 1187.2,1593.2 1191.2,1595.0 1195.2,1596.7 1199.2,1598.5 1203.2,1600.3 1207.2,1602.1 1211.2,1603.9 1215.2,1605.7 1219.2,1607.4 1223.2,1609.2 1227.2,1610.9 1231.2,1612.7 1235.2,1614.4 1239.2,1616.1 1243.2,1617.9 1247.2,1619.6 1251.2,1621.3 1255.2,1623.0 1259.2,1624.7 1263.2,1626.4 1267.2,1628.1 1271.2,1629.8 1275.2,1631.5 1279.2,1633.1 1283.2,1634.8 1287.2,1636.5 1291.2,1638.1 1295.2,1639.8 1299.2,1641.5 1303.2,1643.1 1307.2,1644.8 1311.2,1646.4 1315.2,1648.0 1319.2,1649.7 1323.2,1651.3 1327.2,1652.9 1331.2,1654.5 1335.2,1656.1 1339.2,1657.7 1343.2,1659.2 1347.2,1660.8 1351.2,1662.4 1355.2,1663.9 1359.2,1665.5 1363.2,1667.0 1367.2,1668.5 1371.2,1670.0 1375.2,1671.5 1379.2,1673.0 1383.2,1674.4 1387.2,1675.9 1391.2,1677.4 1395.2,1678.8 1399.2,1680.2 1403.2,1681.7 1407.2,1683.1 1411.2,1684.5 1415.2,1685.9 1419.2,1687.3 1423.2,1688.7 1427.2,1690.1 1431.2,1691.4 1435.2,1692.8 1439.2,1694.2 1443.2,1695.5 1447.2,1696.9 1451.2,1698.3 1455.2,1699.6 1459.2,1701.0 1463.2,1702.3 1467.2,1703.7 1471.2,1705.0 1475.2,1706.4 1479.2,1707.7 1483.2,1709.1 1487.2,1710.4 1491.2,1711.8 1495.2,1713.1 1499.2,1714.5 1503.2,1715.8 1507.2,1717.1 1511.2,1718.5 1515.2,1719.8 1519.2,1721.2 1523.2,1722.5 1527.2,1723.8 1531.2,1725.2 1535.2,1726.5 1539.2,1727.8 1543.2,1729.1 1547.2,1730.4 1551.2,1731.7 1555.2,1732.9 1559.2,1734.2 1563.2,1735.5 1567.2,1736.7 1571.2,1738.0 1575.2,1739.2 1579.2,1740.4 1583.2,1741.6 1587.2,1742.8 1591.2,1743.9 1595.2,1745.1 1599.2,1746.2 1603.2,1747.4 1607.2,1748.5 1611.2,1749.6 1615.2,1750.7 1619.2,1751.8 1623.2,1752.9 1627.2,1754.0 1631.2,1755.1 1635.2,1756.1 1639.2,1757.2 1643.2,1758.3 1647.2,1759.3 1651.2,1760.4 1655.2,1761.4 1659.2,1762.5 1663.2,1763.5 1667.2,1764.6 1671.2,1765.6 1675.2,1766.7 1679.2,1767.7 1683.2,1768.7 1687.2,1769.8 1691.2,1770.8 1695.2,1771.9 1699.2,1772.9 1703.2,1773.9 1707.2,1774.9 1711.2,1776.0 1715.2,1777.0 1719.2,1778.0 1723.2,1779.0 1727.2,1780.0 1731.2,1781.0 1735.2,1782.0 1735.2,2115.2 1731.2,2114.1 1727.2,2112.9 1723.2,2111.8 1719.2,2110.6 1715.2,2109.5 1711.2,2108.4 1707.2,2107.3 1703.2,2106.1 1699.2,2105.0 1695.2,2103.9 1691.2,2102.8 1687.2,2101.7 1683.2,2100.6 1679.2,2099.5 1675.2,2098.4 1671.2,2097.3 1667.2,2096.3 1663.2,2095.2 1659.2,2094.1 1655.2,2093.0 1651.2,2092.0 1647.2,2090.9 1643.2,2089.8 1639.2,2088.8 1635.2,2087.7 1631.2,2086.6 1627.2,2085.5 1623.2,2084.5 1619.2,2083.4 1615.2,2082.3 1611.2,2081.3 1607.2,2080.2 1603.2,2079.1 1599.2,2078.0 1595.2,2076.9 1591.2,2075.8 1587.2,2074.7 1583.2,2073.6 1579.2,2072.5 1575.2,2071.4 1571.2,2070.3 1567.2,2069.1 1563.2,2068.0 1559.2,2066.9 1555.2,2065.7 1551.2,2064.6 1547.2,2063.4 1543.2,2062.3 1539.2,2061.1 1535.2,2060.0 1531.2,2058.8 1527.2,2057.7 1523.2,2056.5 1519.2,2055.4 1515.2,2054.2 1511.2,2053.1 1507.2,2051.9 1503.2,2050.8 1499.2,2049.7 1495.2,2048.6 1491.2,2047.4 1487.2,2046.3 1483.2,2045.2 1479.2,2044.1 1475.2,2043.1 1471.2,2042.0 1467.2,2040.9 1463.2,2039.9 1459.2,2038.8 1455.2,2037.7 1451.2,2036.7 1447.2,2035.7 1443.2,2034.6 1439.2,2033.6 1435.2,2032.6 1431.2,2031.5 1427.2,2030.5 1423.2,2029.5 1419.2,2028.4 1415.2,2027.4 1411.2,2026.4 1407.2,2025.4 1403.2,2024.3 1399.2,2023.3 1395.2,2022.3 1391.2,2021.2 1387.2,2020.2 1383.2,2019.1 1379.2,2018.0 1375.2,2017.0 1371.2,2015.9 1367.2,2014.8 1363.2,2013.7 1359.2,2012.6 1355.2,2011.5 1351.2,2010.4 1347.2,2009.3 1343.2,2008.2 1339.2,2007.1 1335.2,2006.0 1331.2,2004.9 1327.2,2003.7 1323.2,2002.6 1319.2,2001.5 1315.2,2000.4 1311.2,1999.2 1307.2,1998.1 1303.2,1997.0 1299.2,1995.8 1295.2,1994.7 1291.2,1993.6 1287.2,1992.5 1283.2,1991.4 1279.2,1990.2 1275.2,1989.1 1271.2,1988.0 1267.2,1986.9 1263.2,1985.8 1259.2,1984.7 1255.2,1983.6 1251.2,1982.5 1247.2,1981.4 1243.2,1980.3 1239.2,1979.2 1235.2,1978.1 1231.2,1977.0 1227.2,1975.9 1223.2,1974.8 1219.2,1973.8 1215.2,1972.7 1211.2,1971.6 1207.2,1970.5 1203.2,1969.4 1199.2,1968.3 1195.2,1967.2 1191.2,1966.2 1187.2,1965.1 1183.2,1964.0 1179.2,1962.9 1175.2,1961.9 1171.2,1960.8 1167.2,1959.7 1163.2,1958.7 1159.2,1957.6 1155.2,1956.6 1151.2,1955.5 1147.2,1954.4 1143.2,1953.4 1139.2,1952.3 1135.2,1951.2 1131.2,1950.1 1127.2,1949.1 1123.2,1948.0 1119.2,1946.9 1115.2,1945.8 1111.2,1944.8 1107.2,1943.7 1103.2,1942.6 1099.2,1941.6 1095.2,1940.5 1091.2,1939.5 1087.2,1938.5 1083.2,1937.4 1079.2,1936.4 1075.2,1935.4 1071.2,1934.5 1067.2,1933.5 1063.2,1932.5 1059.2,1931.6 1055.2,1930.7 1051.2,1929.8 1047.2,1928.9 1043.2,1928.1 1039.2,1927.2 1035.2,1926.4 1031.2,1925.6 1027.2,1924.8 1023.2,1924.0 1019.2,1923.2 1015.2,1922.5 1011.2,1921.7 1007.2,1921.0"/>
<polyline class="ln" points="1007.2,1733.6 1011.2,1735.3 1015.2,1737.0 1019.2,1738.6 1023.2,1740.3 1027.2,1741.9 1031.2,1743.6 1035.2,1745.2 1039.2,1746.8 1043.2,1748.4 1047.2,1749.9 1051.2,1751.4 1055.2,1752.9 1059.2,1754.4 1063.2,1755.9 1067.2,1757.4 1071.2,1758.8 1075.2,1760.2 1079.2,1761.7 1083.2,1763.1 1087.2,1764.5 1091.2,1765.9 1095.2,1767.2 1099.2,1768.6 1103.2,1770.0 1107.2,1771.4 1111.2,1772.7 1115.2,1774.1 1119.2,1775.4 1123.2,1776.8 1127.2,1778.1 1131.2,1779.5 1135.2,1780.9 1139.2,1782.2 1143.2,1783.6 1147.2,1785.0 1151.2,1786.3 1155.2,1787.7 1159.2,1789.1 1163.2,1790.5 1167.2,1791.9 1171.2,1793.3 1175.2,1794.7 1179.2,1796.0 1183.2,1797.4 1187.2,1798.8 1191.2,1800.2 1195.2,1801.6 1199.2,1803.0 1203.2,1804.4 1207.2,1805.8 1211.2,1807.2 1215.2,1808.6 1219.2,1810.0 1223.2,1811.3 1227.2,1812.7 1231.2,1814.1 1235.2,1815.5 1239.2,1816.8 1243.2,1818.2 1247.2,1819.6 1251.2,1820.9 1255.2,1822.3 1259.2,1823.6 1263.2,1825.0 1267.2,1826.3 1271.2,1827.6 1275.2,1829.0 1279.2,1830.3 1283.2,1831.6 1287.2,1833.0 1291.2,1834.3 1295.2,1835.6 1299.2,1836.9 1303.2,1838.2 1307.2,1839.6 1311.2,1840.9 1315.2,1842.2 1319.2,1843.5 1323.2,1844.8 1327.2,1846.1 1331.2,1847.4 1335.2,1848.7 1339.2,1850.0 1343.2,1851.2 1347.2,1852.5 1351.2,1853.8 1355.2,1855.1 1359.2,1856.4 1363.2,1857.7 1367.2,1858.9 1371.2,1860.2 1375.2,1861.5 1379.2,1862.7 1383.2,1864.0 1387.2,1865.3 1391.2,1866.5 1395.2,1867.8 1399.2,1869.0 1403.2,1870.3 1407.2,1871.5 1411.2,1872.8 1415.2,1874.0 1419.2,1875.3 1423.2,1876.5 1427.2,1877.7 1431.2,1879.0 1435.2,1880.2 1439.2,1881.4 1443.2,1882.7 1447.2,1883.9 1451.2,1885.1 1455.2,1886.4 1459.2,1887.6 1463.2,1888.8 1467.2,1890.0 1471.2,1891.2 1475.2,1892.5 1479.2,1893.7 1483.2,1894.9 1487.2,1896.1 1491.2,1897.3 1495.2,1898.5 1499.2,1899.7 1503.2,1900.9 1507.2,1902.1 1511.2,1903.4 1515.2,1904.6 1519.2,1905.8 1523.2,1907.0 1527.2,1908.2 1531.2,1909.4 1535.2,1910.5 1539.2,1911.7 1543.2,1912.9 1547.2,1914.1 1551.2,1915.3 1555.2,1916.5 1559.2,1917.7 1563.2,1918.8 1567.2,1920.0 1571.2,1921.2 1575.2,1922.4 1579.2,1923.5 1583.2,1924.7 1587.2,1925.9 1591.2,1927.0 1595.2,1928.2 1599.2,1929.3 1603.2,1930.5 1607.2,1931.6 1611.2,1932.8 1615.2,1934.0 1619.2,1935.1 1623.2,1936.3 1627.2,1937.4 1631.2,1938.6 1635.2,1939.7 1639.2,1940.8 1643.2,1942.0 1647.2,1943.1 1651.2,1944.2 1655.2,1945.4 1659.2,1946.5 1663.2,1947.6 1667.2,1948.7 1671.2,1949.8 1675.2,1950.9 1679.2,1952.0 1683.2,1953.1 1687.2,1954.2 1691.2,1955.3 1695.2,1956.4 1699.2,1957.5 1703.2,1958.5 1707.2,1959.6 1711.2,1960.6 1715.2,1961.7 1719.2,1962.7 1723.2,1963.7 1727.2,1964.8 1731.2,1965.8 1735.2,1966.8"/>
<path class="rug" d="M1007.6 2178.9V2147.3M1029.0 2178.9V2147.3M1050.4 2178.9V2147.3M1071.8 2178.9V2147.3M1093.2 2178.9V2147.3M1114.6 2178.9V2147.3M1136.1 2178.9V2147.3M1157.5 2178.9V2147.3M1178.9 2178.9V2147.3M1200.3 2178.9V2147.3M1221.7 2178.9V2147.3M1243.1 2178.9V2147.3M1264.6 2178.9V2147.3M1286.0 2178.9V2147.3M1307.4 2178.9V2147.3M1328.8 2178.9V2147.3M1350.2 2178.9V2147.3M1371.6 2178.9V2147.3M1393.0 2178.9V2147.3M1414.5 2178.9V2147.3M1435.9 2178.9V2147.3M1457.3 2178.9V2147.3M1478.7 2178.9V2147.3M1500.1 2178.9V2147.3M1521.5 2178.9V2147.3M1542.9 2178.9V2147.3M1564.4 2178.9V2147.3M1585.8 2178.9V2147.3M1607.2 2178.9V2147.3M1628.6 2178.9V2147.3M1650.0 2178.9V2147.3M1692.8 2178.9V2147.3M1735.7 2178.9V2147.3"/>
<path class="bd" d="M971.2 1161.5H1771.9V2178.9"/>
<path class="axl" d="M971.2 1161.5V2178.9H1771.9"/>
<path class="tick" d="M1050.4 2179.9V2187.1M1264.6 2179.9V2187.1M1478.7 2179.9V2187.1M1692.8 2179.9V2187.1"/>
<text class="tk" text-anchor="middle" x="1049.4" y="2220.2">20</text>
<text class="tk" text-anchor="middle" x="1263.6" y="2220.2">30</text>
<text class="tk" text-anchor="middle" x="1477.7" y="2220.2">40</text>
<text class="tk" text-anchor="middle" x="1691.8" y="2220.2">50</text>
</g>
<text class="ti" text-anchor="middle" x="499.7" y="35.4">Pregnant women</text>
<text class="ti" style="letter-spacing:.22px" text-anchor="middle" x="1366.1" y="35.4">Postpartum women</text>
<text class="ax" style="font-size:36.2px" text-anchor="middle" x="920.4" y="2284.5">Age of the women (years)</text>
<text class="ax" style="font-size:37.1px" text-anchor="middle" transform="translate(31.4 561.8) rotate(-90)">Estimated GAD7 raw score</text>
<text class="ax" style="font-size:37.3px" text-anchor="middle" transform="translate(31.4 1718.0) rotate(-90)">Estimated EPDS raw score</text>
</svg></body></html>
